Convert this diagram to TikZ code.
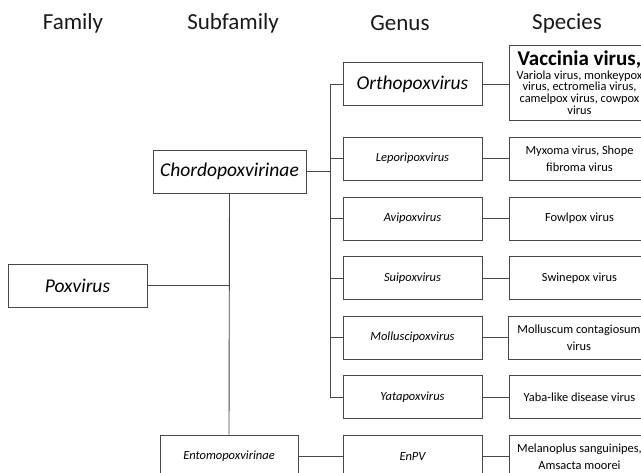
\documentclass[tikz,border=0pt]{standalone}
\usepackage{fontspec}
\setmainfont{Carlito}
\begin{document}
\begin{tikzpicture}[x=1pt,y=-1pt,
  line/.style={draw=black!72,line width=0.9pt},
  box/.style={line,rectangle,inner sep=1pt,align=center,text=black},
  genbox/.style={box,minimum width=139pt,minimum height=43pt},
  spbox/.style={box,minimum width=141pt,minimum height=43pt},
  hdr/.style={font=\fontsize{23}{27}\selectfont,text=black!90},
  big/.style={font=\fontsize{19.5}{23}\selectfont\itshape},
  small/.style={font=\fontsize{12.5}{15.5}\selectfont\itshape},
  sp/.style={font=\fontsize{12.4}{16.5}\selectfont}
]
\useasboundingbox (0,0) rectangle (641,473);
\clip (0,0) rectangle (641,473);
% headers
\node[hdr] (hfam) at (73,23) {Family};
\node[hdr] (hsub) at (233,23) {Subfamily};
\node[hdr] (hgen) at (400,23) {Genus};
\node[hdr] (hspe) at (567,23) {Species};
% family / subfamily
\node[box,big,minimum width=139pt,minimum height=43pt] (pox) at (77.5,285.5) {Poxvirus};
\node[box,big,minimum width=153pt,minimum height=43pt] (chordo) at (229.5,171.5) {Chordopoxvirinae};
\node[box,small,minimum width=138pt,minimum height=43pt] (ento) at (229,456.5) {Entomopoxvirinae};
% genus
\node[genbox,big] (ortho) at (412.5,84) {Orthopoxvirus};
\node[genbox,small] (lepo) at (412.5,158.5) {Leporipoxvirus};
\node[genbox,small] (avi) at (412.5,218.5) {Avipoxvirus};
\node[genbox,small] (sui) at (412.5,278) {Suipoxvirus};
\node[genbox,small] (moll) at (412.5,337.5) {Molluscipoxvirus};
\node[genbox,small] (yata) at (412.5,397) {Yatapoxvirus};
\node[genbox,small] (enpv) at (412.5,456.5) {EnPV};
% species
\node[spbox,minimum height=75pt,inner ysep=0pt,font=\fontsize{12.4}{11.6}\selectfont] (vacc) at (579.5,82.5)
  {{\fontsize{21}{22}\selectfont\bfseries Vaccinia virus,}\\[2pt]
   Variola virus, monkeypox\\virus, ectromelia virus,\\camelpox virus, cowpox\\virus};
\node[spbox,sp] (myxo) at (579.5,158.5) {Myxoma virus, Shope\\fibroma virus};
\node[spbox,sp] (fowl) at (579.5,218.5) {Fowlpox virus};
\node[spbox,sp] (swine) at (579.5,278) {Swinepox virus};
\node[spbox,sp] (mollsp) at (579,337.5) {Molluscum contagiosum\\virus};
\node[spbox,sp] (yaba) at (579.5,397) {Yaba-like disease virus};
\node[spbox,sp] (mela) at (579.5,456.5) {Melanoplus sanguinipes,\\Amsacta moorei};
% connectors: genus trunk
\coordinate (gx) at (330,0);
\draw[line] (ortho.west) -- (ortho.west -| gx) |- (yata.west);
\foreach \g in {lepo,avi,sui,moll}{\draw[line] (\g.west) -- (\g.west -| gx);}
\draw[line] (chordo.east) -- (chordo.east -| gx);
% subfamily trunk
\draw[line] (chordo.south) -- (ento.north);
\draw[line] (pox.east) -- (pox.east -| chordo.south);
\draw[line] (ento.east) -- (enpv.west);
% genus to species
\draw[line] (ortho.east) -- (ortho.east -| vacc.west);
\draw[line] (lepo.east) -- (myxo.west);
\draw[line] (avi.east) -- (fowl.west);
\draw[line] (sui.east) -- (swine.west);
\draw[line] (moll.east) -- (mollsp.west);
\draw[line] (yata.east) -- (yaba.west);
\draw[line] (enpv.east) -- (mela.west);
\end{tikzpicture}
\end{document}
